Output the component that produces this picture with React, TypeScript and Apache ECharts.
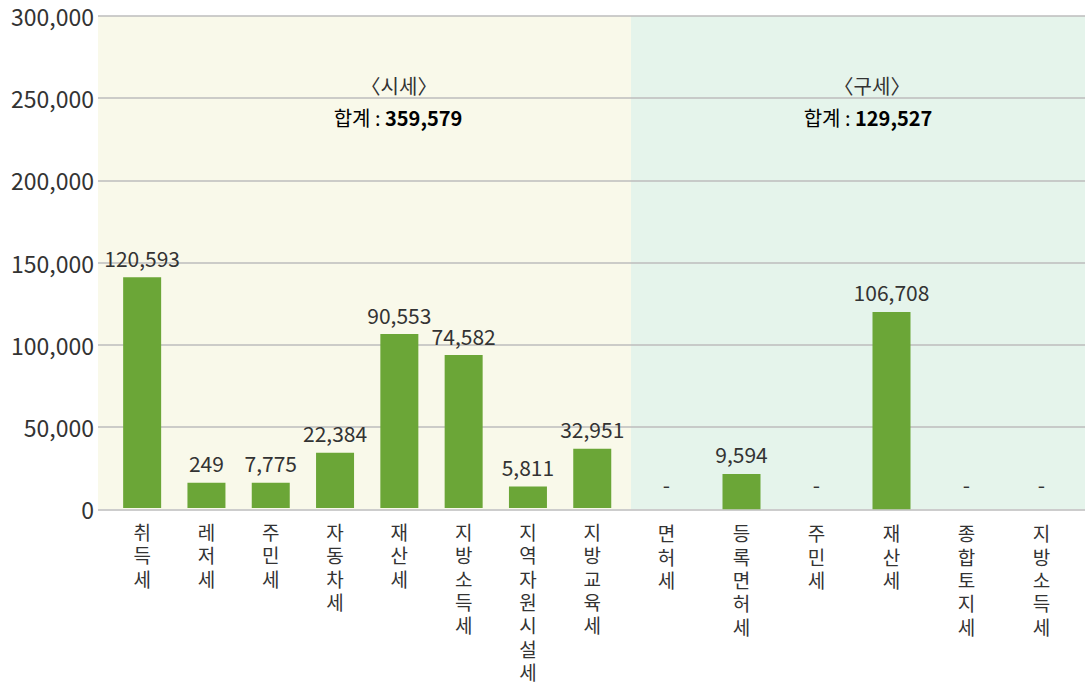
import React, { useEffect, useRef } from "react";
import * as echarts from "echarts";

// 시세 (city taxes)
const cityCategories = ["취득세", "레저세", "주민세", "자동차세", "재산세", "지방소득세", "지역자원시설세", "지방교육세"];
const cityBarHeights = [140700, 15400, 15400, 33600, 106000, 93200, 13000, 36100];
const cityValueLabels = [120593, 249, 7775, 22384, 90553, 74582, 5811, 32951];
const cityTotal = 359579;

// 구세 (district taxes)
const districtCategories = ["면허세", "등록면허세", "주민세", "재산세", "종합토지세", "지방소득세"];
const districtBarHeights = [0, 21500, 0, 120000, 0, 0];
const districtValueLabels = [0, 9594, 0, 106708, 0, 0];
const districtTotal = 129527;

const yMin = 0;
const yMax = 300000;
const yInterval = 50000;

const FONT = "'Noto Sans CJK KR', 'Noto Sans', sans-serif";
const TEXT = "#333333";
const BAR = "#6ba637";

const fmt = (v: number) => v.toLocaleString("en-US");

export default function App() {
  const ref = useRef<HTMLDivElement>(null);

  useEffect(() => {
    document.body.style.margin = "0";
    if (!ref.current) return;
    const chart = echarts.init(ref.current, null, { renderer: "svg" });

    const plotTop = 16;
    const plotBottom = 509.3;
    const plotH = plotBottom - plotTop;
    const bottomGap = 683 - plotBottom;

    const catAxis = (cats: string[], gridIndex: number) => ({
      type: "category",
      gridIndex,
      data: cats,
      axisLine: { show: false },
      axisTick: { show: false },
      axisLabel: {
        interval: 0,
        margin: 12,
        fontFamily: FONT,
        fontSize: 19,
        lineHeight: 23.3,
        color: TEXT,
        formatter: (v: string) => v.split("").join("\n"),
      },
    });

    const hiddenY = (gridIndex: number) => ({
      type: "value",
      gridIndex,
      min: yMin,
      max: yMax,
      interval: yInterval,
      show: false,
      splitLine: { show: false },
    });

    const barSeries = (heights: number[], labels: number[], idx: number) => ({
      type: "bar",
      xAxisIndex: idx,
      yAxisIndex: idx,
      barWidth: 38,
      itemStyle: { color: BAR },
      data: heights.map((h, i) => ({
        value: h,
        label: {
          show: true,
          position: "top",
          distance: labels[i] === 0 ? 15 : 9,
          formatter: labels[i] === 0 ? "-" : fmt(labels[i]),
          fontFamily: FONT,
          fontSize: 21,
          color: TEXT,
        },
      })),
    });

    const titleRich = {
      a: { fontFamily: FONT, fontSize: 20, color: TEXT },
      b: { fontFamily: FONT, fontSize: 20, color: TEXT, fontWeight: "bold" },
    };

    chart.setOption({
      animation: false,
      grid: [
        { left: 98, right: 2, top: plotTop, bottom: bottomGap },
        { left: 110, width: 514.4, top: plotTop, bottom: bottomGap },
        { left: 629, width: 450, top: plotTop, bottom: bottomGap },
      ],
      xAxis: [
        { type: "value", gridIndex: 0, min: 0, max: 1, show: false },
        catAxis(cityCategories, 1),
        catAxis(districtCategories, 2),
      ],
      yAxis: [
        {
          type: "value",
          gridIndex: 0,
          min: yMin,
          max: yMax,
          interval: yInterval,
          axisLine: { show: false },
          axisTick: { show: false },
          axisLabel: {
            margin: 4,
            fontFamily: FONT,
            fontSize: 23,
            color: TEXT,
            formatter: (v: number) => fmt(v),
          },
          splitLine: { show: true, lineStyle: { color: "#bdbdbd", width: 1.5 } },
        },
        hiddenY(1),
        hiddenY(2),
      ],
      graphic: [
        {
          type: "rect",
          z: -10,
          shape: { x: 98, y: plotTop, width: 533, height: plotH },
          style: { fill: "#f9f9ea" },
          silent: true,
        },
        {
          type: "rect",
          z: -10,
          shape: { x: 631, y: plotTop, width: 454, height: plotH },
          style: { fill: "#e5f4eb" },
          silent: true,
        },
        {
          type: "text",
          x: 399,
          y: 85,
          style: { text: "〈시세〉", fontFamily: FONT, fontSize: 20, fill: TEXT, align: "center", verticalAlign: "middle" },
        },
        {
          type: "text",
          x: 398,
          y: 117,
          style: {
            text: "{a|합계 : }{b|" + fmt(cityTotal) + "}",
            rich: titleRich,
            align: "center",
            verticalAlign: "middle",
          },
        },
        {
          type: "text",
          x: 872,
          y: 85,
          style: { text: "〈구세〉", fontFamily: FONT, fontSize: 20, fill: TEXT, align: "center", verticalAlign: "middle" },
        },
        {
          type: "text",
          x: 868,
          y: 117,
          style: {
            text: "{a|합계 : }{b|" + fmt(districtTotal) + "}",
            rich: titleRich,
            align: "center",
            verticalAlign: "middle",
          },
        },
      ],
      series: [
        barSeries(cityBarHeights, cityValueLabels, 1),
        barSeries(districtBarHeights, districtValueLabels, 2),
      ],
    });

    return () => chart.dispose();
  }, []);

  return <div ref={ref} style={{ width: 1087, height: 683 }} />;
}
